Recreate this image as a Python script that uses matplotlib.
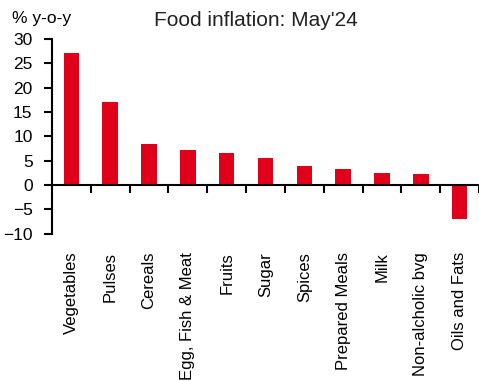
import matplotlib
matplotlib.use("Agg")
import matplotlib.pyplot as plt

categories = ["Vegetables", "Pulses", "Cereals", "Egg, Fish & Meat", "Fruits", "Sugar",
              "Spices", "Prepared Meals", "Milk", "Non-alcholic bvg", "Oils and Fats"]
values = [27.2, 17.0, 8.5, 7.1, 6.5, 5.5, 4.0, 3.2, 2.4, 2.2, -6.9]
yticks = [-10, -5, 0, 5, 10, 15, 20, 25, 30]

plt.rcParams["font.family"] = ["Liberation Sans", "DejaVu Sans"]

fig = plt.figure(figsize=(4.79, 3.81), dpi=100)
ax = fig.add_axes([52 / 479, 1 - 233.7 / 381, 1 - 52 / 479, (233.7 - 39) / 381])

x = list(range(len(categories)))
ax.bar(x, values, width=0.4, color="#E0001A")

ax.set_ylim(-10, 30)
ax.set_xlim(-0.5, len(categories) - 0.5 - 6 / 39.5)
ax.set_yticks(yticks)
ax.tick_params(axis="y", direction="out", length=6, width=1.5, labelsize=12.5, pad=8)

for s in ["top", "right"]:
    ax.spines[s].set_visible(False)
ax.spines["left"].set_linewidth(1.5)
ax.spines["bottom"].set_linewidth(1.5)
ax.spines["bottom"].set_position(("data", 0))

# boundary ticks on the zero line, no labels
ax.set_xticks([i + 0.5 for i in x])
ax.tick_params(axis="x", direction="out", length=6, width=1.5, labelbottom=False)

# category labels below the plot area
sec = ax.secondary_xaxis(location=0.0)
sec.set_xticks(x)
sec.set_xticklabels(categories, rotation=90, fontsize=12)
sec.tick_params(length=0, pad=13)
sec.spines["bottom"].set_visible(False)

fig.text(12 / 479, 1 - 19 / 381, "% y-o-y", fontsize=12.5, va="center", ha="left")
fig.text(256 / 479, 1 - 21 / 381, "Food inflation: May'24", fontsize=15, va="center", ha="center",
         color="#222222")

fig.savefig("out.png", dpi=100)
